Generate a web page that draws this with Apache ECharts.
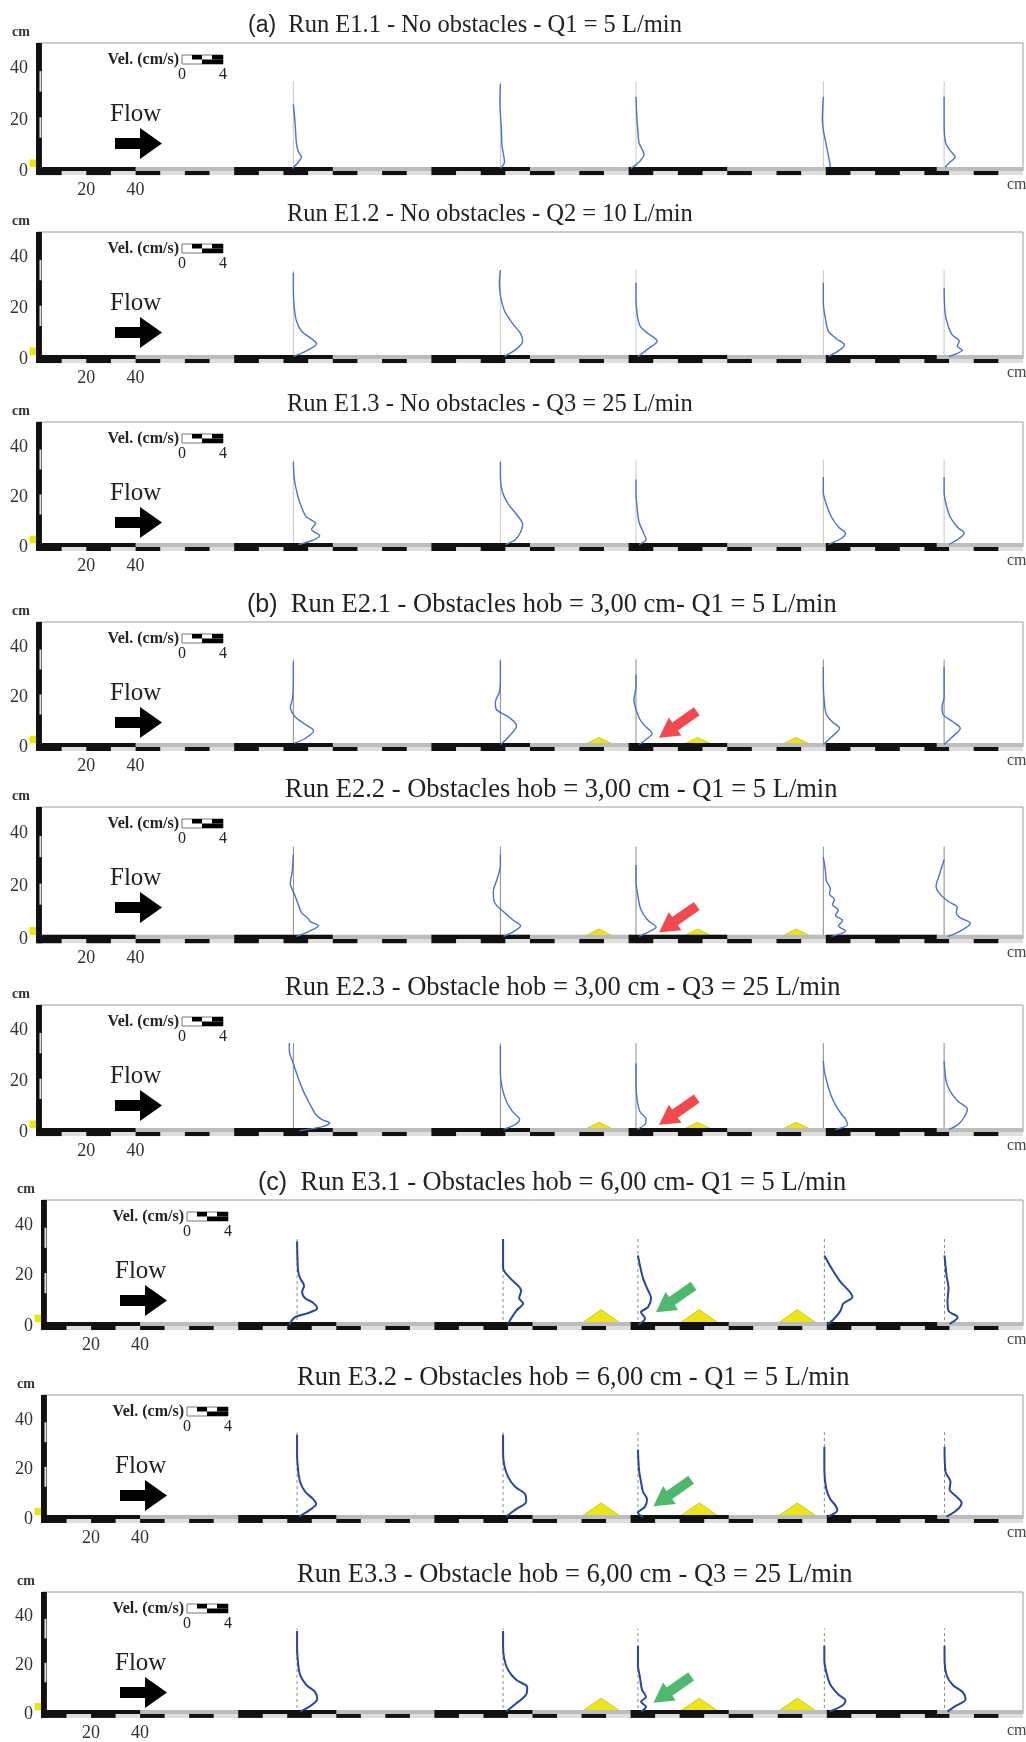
<!DOCTYPE html>
<html>
<head>
<meta charset="utf-8">
<script src="https://cdn.jsdelivr.net/npm/echarts@6/dist/echarts.min.js"></script>
<style>
  html, body { margin: 0; padding: 0; background: #fff; }
  #chartDom { width: 1026px; height: 1742px; }
</style>
</head>
<body>
<div id="chartDom"></div>
<script>
// ---- data (x in cm along the flume, z in cm, velocities in cm/s) ----
const stations = [104, 188, 243, 319, 368];      // profile positions (cm)
const obstacleX = [228, 268, 308];                // obstacle crests (cm)
const obstacleW = [0, 0, 0, 16, 16, 16, 19, 19, 19];
const obstacleH = [0, 0, 0, 3.8, 3.8, 3.8, 6.5, 6.5, 6.5];
const titles = [
  '{p|(a)}  Run E1.1 - No obstacles - Q1 = 5 L/min',
  'Run E1.2 - No obstacles - Q2 = 10 L/min',
  'Run E1.3 - No obstacles - Q3 = 25 L/min',
  '{p|(b)}  Run E2.1 - Obstacles hob = 3,00 cm- Q1 = 5 L/min',
  'Run E2.2 - Obstacles hob = 3,00 cm - Q1 = 5 L/min',
  'Run E2.3 - Obstacle hob = 3,00 cm - Q3 = 25 L/min',
  '{p|(c)}  Run E3.1 - Obstacles hob = 6,00 cm- Q1 = 5 L/min',
  'Run E3.2 - Obstacles hob = 6,00 cm - Q1 = 5 L/min',
  'Run E3.3 - Obstacle hob = 6,00 cm - Q3 = 25 L/min'
];
// velocity profiles: [velocity, height] pairs, bottom to top, five per run
const runE11 = [
  [[-0.1,1],[0.5,3.5],[0.8,5.5],[0.5,7.5],[0.3,11],[0.2,17],[0.1,22],[0,26]],
  [[0,1],[0.4,3.5],[0.3,6.5],[0.15,10],[0.1,16],[0,22],[-0.05,28],[0,34]],
  [[-0.5,1],[0.3,3.5],[0.8,6.5],[0.6,8.5],[0.3,11],[0.2,15],[0.1,20],[0,29]],
  [[0.7,1.5],[0.6,4],[0.4,8],[0.2,12],[0,16],[-0.1,20],[0,29]],
  [[0.1,1.5],[0.6,3.5],[1.1,5.5],[0.6,8],[0.15,11],[0,18],[0,29]]
];
const runE12 = [
  [[0,1],[1.2,3],[2.3,6],[1.8,8],[0.8,11],[0.3,15],[0.1,20],[0,27],[0,34]],
  [[0.4,1],[1.6,4],[2.2,7],[2.0,10],[1.2,14],[0.4,19],[0,25],[-0.1,30],[0,35]],
  [[0.2,1],[1.2,4],[2.1,7],[1.2,10],[0.4,13],[0.1,18],[0,24],[0,30]],
  [[0.5,1],[1.6,3.5],[2.1,5.5],[1.3,8],[0.5,11],[0.2,16],[0,22],[0,30]],
  [[0.5,1],[1.8,3.5],[1.3,5],[1.5,7],[0.8,9.5],[0.4,13],[0.1,18],[0,28]]
];
const runE13 = [
  [[0.5,1],[1.8,2.5],[2.6,4.5],[1.8,7],[2.2,9.5],[1.3,12],[0.8,16],[0.4,21],[0.1,27],[0,34]],
  [[0.5,1],[1.5,3],[2.0,6],[2.2,9],[1.6,13],[0.8,17],[0.2,22],[0,28],[0,34]],
  [[0.3,1],[1.0,3],[0.7,6],[0.3,10],[0.1,16],[0,22],[0,27]],
  [[0.5,1],[1.8,3.5],[2.2,5.5],[1.5,8],[0.8,12],[0.3,17],[0,22],[0,28]],
  [[0.5,1],[1.5,3.5],[2.0,5.5],[1.3,8],[0.6,12],[0.2,17],[0,22],[0,28]]
];
const runE21 = [
  [[0.1,1.5],[1.2,3.5],[2.0,6.5],[1.2,9],[0.2,12],[-0.3,16],[-0.1,19],[0,25],[0,34]],
  [[0,1],[0.8,4],[1.6,8.5],[0.8,12],[-0.4,15],[-0.5,18],[-0.1,22],[0,28],[0,34.5]],
  [[0.3,1],[1.0,3],[1.6,5.5],[1.0,8],[0.4,11],[0,15],[-0.2,19],[0,24],[0,29]],
  [[0,1],[0.8,4],[1.6,7.5],[0.9,10],[0.3,13],[0.1,18],[0,25],[0,32]],
  [[0,1],[0.8,4],[1.6,7.5],[0.9,10],[-0.1,13],[-0.2,16],[0,20],[0,32]]
];
const runE22 = [
  [[0.3,1],[1.6,3],[2.5,5],[1.7,6.5],[1.4,8],[0.8,10],[0.5,13],[0.1,17],[-0.3,21],[-0.1,26],[0,32]],
  [[0.3,1],[1.4,3],[2.0,5],[1.3,7],[0.4,10],[-0.6,14],[-0.7,18],[-0.3,23],[0,28],[0,32]],
  [[0.3,1],[1.4,3],[2.0,4.5],[1.2,7],[0.5,11],[0.2,16],[0,22],[0,28]],
  [[0.8,1],[2.2,3],[1.5,5],[1.9,7],[1.2,9],[1.5,11],[0.9,13],[1.1,15],[0.6,17],[0.7,19],[0.3,22],[0.2,26],[0,31]],
  [[0.4,1],[1.6,3],[2.6,6],[1.6,8],[1.2,10],[1.3,12],[0.5,14],[-0.4,17],[-0.8,20],[-0.5,24],[0,30]]
];
const runE23 = [
  [[0.6,0.5],[2.8,2],[3.6,3.5],[2.8,5],[2.2,7],[1.9,9],[1.5,12],[1.0,16],[0.5,21],[0,27],[-0.4,32],[-0.4,35]],
  [[0.3,1],[1.5,3],[1.9,5],[1.2,8],[0.6,12],[0.2,17],[0,23],[0,29],[0,34]],
  [[0.1,1],[0.9,3],[1.0,5],[0.4,8],[0.1,13],[0,20],[0,27]],
  [[1.2,1],[2.4,3],[2.2,5],[1.8,7],[1.3,10],[0.8,14],[0.4,19],[0.1,24],[0,28]],
  [[0.5,1],[1.4,3],[2.0,6],[2.3,9],[1.4,12],[0.6,16],[0.2,20],[0,28]]
];
const runE31 = [
  [[-0.8,0.5],[-0.2,3.5],[1.0,5],[2.0,7],[1.5,9.5],[0.8,11],[0.5,13.5],[0.7,16],[0.3,19],[0.1,22],[0,33.5]],
  [[0.5,1],[1.3,6],[2.0,9],[1.6,11],[1.8,14],[0.7,19],[0,23],[0,34.5]],
  [[0,0.5],[0.7,3],[0.3,5.5],[1.0,7.5],[1.3,11],[0.9,15],[0.5,19],[0.2,24],[0,28]],
  [[0.3,0.5],[1.0,3],[1.6,6],[1.9,9],[2.8,11.5],[1.5,18],[0.7,23],[0,28]],
  [[0.5,0.8],[1.3,3.5],[0.4,6],[0.3,10],[0.4,15],[0.2,20],[0,28]]
];
const runE32 = [
  [[0.2,1],[1.2,3.5],[1.9,6],[1.6,8],[0.8,11],[0.3,15],[0.1,20],[0,26],[0,34]],
  [[0.3,1],[1.3,4],[2.3,7],[2.2,10],[1.2,13],[0.5,17],[0.1,22],[0,28],[0,34]],
  [[0.5,0.8],[0.0,2.5],[0.7,5],[0.9,8],[0.5,11],[0.3,15],[0.1,20],[0,28]],
  [[0.4,1],[1.3,3.5],[1.1,5.5],[0.6,8],[0.2,12],[0,20],[0,29]],
  [[0.2,1],[1.2,3.5],[1.7,6.5],[1.2,9],[0.5,12],[0.6,15],[0.1,19],[0,29]]
];
const runE33 = [
  [[0.3,1],[1.4,3.5],[2.0,6],[1.8,9],[0.9,12],[0.3,16],[0.1,21],[0,27],[0,34]],
  [[0.3,1],[1.2,4],[2.3,8],[2.4,11],[1.3,14],[0.5,18],[0.1,23],[0,28],[0,34]],
  [[0.3,1],[0.8,3],[0.3,5],[0.8,7],[0.4,10],[0.2,15],[0,20],[0,28]],
  [[0.5,1],[1.8,3.5],[2.1,5.5],[1.4,8],[0.6,12],[0.2,17],[0,22],[0,28]],
  [[0.3,1],[1.0,3],[2.1,6],[1.8,9],[0.8,12],[0.2,16],[0,22],[0,28]]
];
const runs = [runE11, runE12, runE13, runE21, runE22, runE23, runE31, runE32, runE33];
// arrows pointing at the third profile: [x, z] of arrow centre
const arrowPos = [null, null, null, [260, 9], [260, 7.5], [260, 8], [258, 10.7], [257, 10.5], [257, 10]];

// ---- layout ----
const VK = 4.1; // cm of flume drawn per 1 cm/s
const panelTop = [43, 232, 422, 622, 807, 1005, 1200, 1395, 1592];
const panelZero = [171, 359, 547, 747, 939, 1132, 1326, 1519, 1717];
const panelLeft = [37, 37, 37, 37, 37, 37, 42, 42, 42];
const titleLeft = [248, 287, 287, 247, 285, 285, 258, 297, 297];
const titleSize = [24.5, 24.5, 24.5, 26.5, 26.5, 26.5, 26.5, 26.5, 26.5];
const serif = 'Liberation Serif';
const fills = ['#111111', '#bcbcbc', '#dedede', '#e8e800'];

// checkered scale bars along the axes: [x0, x1, z0, z1, fill]
const upperBlack = [[0, 40], [80, 120], [160, 200], [240, 280], [320, 365]];
const barRects = [[0, 400, 0, 1.6, 1], [0, 400, -1.6, 0, 2]];
upperBlack.forEach(b => barRects.push([b[0], b[1], 0, 1.6, 0]));
for (let x = 0; x < 400; x += 20) barRects.push([x, x + 10, -1.6, 0, 0]);
barRects.push([-0.4, 2.0, -1.6, 50, 0]);
barRects.push([1.0, 1.8, 13, 21, 2]);
barRects.push([1.0, 1.8, 31, 39, 2]);
barRects.push([-3, -0.4, 1.5, 4.5, 3]);

function rectItem(params, api) {
  const a = api.coord([api.value(0), api.value(3)]);
  const b = api.coord([api.value(1), api.value(2)]);
  return {
    type: 'rect',
    shape: { x: a[0], y: a[1], width: b[0] - a[0], height: b[1] - a[1] },
    style: { fill: fills[api.value(4)] }
  };
}

const chart = echarts.init(document.getElementById('chartDom'));
const grid = [], xAxis = [], yAxis = [], series = [], title = [], graphic = [];

runs.forEach((run, i) => {
  const T = panelTop[i], Z = panelZero[i], L = panelLeft[i];
  const dark = i >= 6;
  grid.push({ left: L, top: T, width: 1000, height: Z - T, show: true, borderColor: '#9c9c9c', borderWidth: 1 });
  xAxis.push({
    gridIndex: i, type: 'value', min: 0, max: 400, interval: 20,
    axisLine: { show: false }, axisTick: { show: false }, splitLine: { show: false },
    axisLabel: { margin: 10, fontFamily: serif, fontSize: 18, color: '#333',
      formatter: v => (v === 20 || v === 40) ? String(v) : '' }
  });
  yAxis.push({
    gridIndex: i, type: 'value', min: 0, max: 50, interval: 10,
    axisLine: { show: false }, axisTick: { show: false }, splitLine: { show: false },
    axisLabel: { margin: 9, fontFamily: serif, fontSize: 18, color: '#333',
      formatter: v => (v % 20 === 0) ? String(v) : '' }
  });
  // axis bars
  series.push({ type: 'custom', xAxisIndex: i, yAxisIndex: i, data: barRects, renderItem: rectItem, z: 3, silent: true });
  // thin reference lines at each station
  series.push({
    type: 'custom', xAxisIndex: i, yAxisIndex: i, silent: true, z: 2,
    data: stations.map(s => [s, 35]),
    renderItem: (p, api) => {
      const a = api.coord([api.value(0), 0]), b = api.coord([api.value(0), api.value(1)]);
      return { type: 'line', shape: { x1: a[0], y1: a[1], x2: b[0], y2: b[1] },
        style: { stroke: i < 3 ? '#c8c8c8' : '#8a8a8a', lineWidth: 1, lineDash: dark ? [3, 3] : null } };
    }
  });
  // obstacles
  if (obstacleH[i] > 0) {
    series.push({
      type: 'custom', xAxisIndex: i, yAxisIndex: i, silent: true, z: 2,
      data: obstacleX.map(c => [c, obstacleW[i], obstacleH[i]]),
      renderItem: (p, api) => {
        const c = api.value(0), w = api.value(1) / 2, h = api.value(2);
        return { type: 'polygon',
          shape: { points: [api.coord([c - w, 0]), api.coord([c, h]), api.coord([c + w, 0])] },
          style: { fill: '#ece51a', stroke: '#c9c000', lineWidth: 0.8 } };
      }
    });
  }
  // velocity profiles
  run.forEach((prof, k) => {
    series.push({
      type: 'line', xAxisIndex: i, yAxisIndex: i, z: 4,
      data: prof.map(p => [stations[k] + p[0] * VK, p[1]]),
      showSymbol: false, smooth: 0.3,
      lineStyle: { color: dark ? '#28479b' : '#4a73c9', width: dark ? 2 : 1.4 }
    });
  });
  // red / green arrows
  if (arrowPos[i]) {
    series.push({
      type: 'scatter', xAxisIndex: i, yAxisIndex: i, z: 5, silent: true,
      data: [arrowPos[i]],
      symbol: 'path://M10,0 L20,17 L14.5,17 L14.5,40 L5.5,40 L5.5,17 L0,17 Z',
      symbolSize: [22, 46], symbolRotate: 125,
      itemStyle: { color: dark ? '#22a84a' : '#ec1c24' }
    });
  }
  // title
  title.push({
    text: titles[i], left: titleLeft[i], top: T - 30, padding: 0,
    textStyle: { fontFamily: serif, fontSize: titleSize[i], fontWeight: 'normal', color: '#222',
      rich: { p: { fontFamily: 'Liberation Sans', fontSize: titleSize[i] - 1.5, color: '#222' } } }
  });
  // decorations: axis units, Flow arrow, velocity scale
  graphic.push(
    { type: 'text', left: L - 25, top: T - 18, style: { text: 'cm', font: 'bold 14px ' + serif, fill: '#333' } },
    { type: 'text', left: 1007, top: Z + 6, style: { text: 'cm', font: '16px ' + serif, fill: '#444' } },
    { type: 'text', left: L + 73, top: T + 59, style: { text: 'Flow', font: '25px ' + serif, fill: '#222' } },
    { type: 'polygon', shape: { points: [[L + 78, T + 95], [L + 103, T + 95], [L + 103, T + 85], [L + 125, T + 100.5],
      [L + 103, T + 116], [L + 103, T + 106], [L + 78, T + 106]] }, style: { fill: '#000' } },
    { type: 'text', x: L + 142, y: T + 17, style: { text: 'Vel. (cm/s)', font: 'bold 16px ' + serif, fill: '#222',
      align: 'right', verticalAlign: 'middle' } },
    { type: 'rect', shape: { x: L + 145, y: T + 12, width: 41, height: 9 }, style: { fill: '#fff', stroke: '#777', lineWidth: 1 } },
    { type: 'rect', shape: { x: L + 155, y: T + 12, width: 10, height: 4.5 }, style: { fill: '#000' } },
    { type: 'rect', shape: { x: L + 175, y: T + 12, width: 11, height: 4.5 }, style: { fill: '#000' } },
    { type: 'rect', shape: { x: L + 165, y: T + 16.5, width: 21, height: 4.5 }, style: { fill: '#000' } },
    { type: 'text', left: L + 141, top: T + 24, style: { text: '0', font: '16px ' + serif, fill: '#222' } },
    { type: 'text', left: L + 182, top: T + 24, style: { text: '4', font: '16px ' + serif, fill: '#222' } }
  );
});

chart.setOption({
  animation: false,
  backgroundColor: '#fff',
  title: title,
  grid: grid,
  xAxis: xAxis,
  yAxis: yAxis,
  series: series,
  graphic: graphic
});
</script>
</body>
</html>
